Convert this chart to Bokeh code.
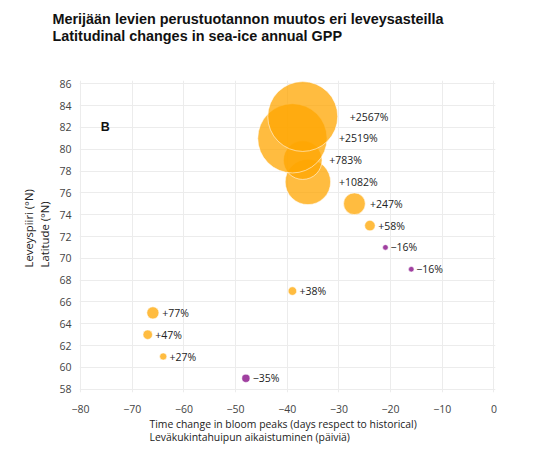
import numpy as np
from bokeh.plotting import figure
from bokeh.models import Label, FixedTicker, ColumnDataSource, Range1d, Title
from bokeh.embed import file_html
from bokeh.resources import INLINE
from bokeh.core.properties import value

# ---- data ----
bloom_shift = [-48, -64, -67, -66, -39, -16, -21, -24, -27, -36, -37, -39, -37]
latitude = [59, 61, 63, 65, 67, 69, 71, 73, 75, 77, 79, 81, 83]
gpp_change = [-35, 27, 47, 77, 38, -16, -16, 58, 247, 1082, 783, 2519, 2567]
point_labels = ["\u221235%", "+27%", "+47%", "+77%", "+38%", "\u221216%", "\u221216%",
                "+58%", "+247%", "+1082%", "+783%", "+2519%", "+2567%"]

x_ticks = [-80, -70, -60, -50, -40, -30, -20, -10, 0]
x_tick_labels = ["\u221280", "\u221270", "\u221260", "\u221250", "\u221240", "\u221230",
                 "\u221220", "\u221210", "0"]
y_ticks = [58, 60, 62, 64, 66, 68, 70, 72, 74, 76, 78, 80, 82, 84, 86]
y_tick_labels = [str(t) for t in y_ticks]

title_lines = ["Merijään levien perustuotannon muutos eri leveysasteilla",
               "Latitudinal changes in sea-ice annual GPP"]
x_title_lines = ["Time change in bloom peaks (days respect to historical)",
                 "Leväkukintahuipun aikaistuminen (päiviä)"]
y_title_lines = ["Leveyspiiri (°N)", "Latitude (°N)"]
panel_letter = "B"

# ---- layout ----
W, H = 556, 455
FL, FR, FT, FB = 79, 495, 80, 392          # frame edges in canvas pixels
X0, X1, Y0, Y1 = -80.2, 0.3, 57.7, 86.3


def px2x(px):
    return X0 + (px - FL) * (X1 - X0) / (FR - FL)


def px2y(py):
    return Y0 + (FB - py) * (Y1 - Y0) / (FB - FT)


# ---- derived styling ----
radius_px = [0.69 * np.sqrt(abs(v)) for v in gpp_change]
colors = ["#FFA500" if v > 0 else "#800080" for v in gpp_change]
src = ColumnDataSource(dict(
    x=bloom_shift, y=latitude, label=point_labels,
    size=[2 * r for r in radius_px],
    xoff=[1.3 * r + 1.5 for r in radius_px],
    color=colors,
))

p = figure(width=W, height=H, output_backend="svg", toolbar_location=None,
           x_range=Range1d(X0, X1), y_range=Range1d(Y0, Y1),
           min_border_left=FL, min_border_right=W - FR, min_border_top=FT, min_border_bottom=H - FB)
p.title = None
p.outline_line_color = None
p.background_fill_color = "white"
p.border_fill_color = "white"

for ax, ticks, labs in ((p.xaxis[0], x_ticks, x_tick_labels), (p.yaxis[0], y_ticks, y_tick_labels)):
    ax.ticker = FixedTicker(ticks=ticks)
    ax.major_label_overrides = {t: l for t, l in zip(ticks, labs)}
    ax.axis_line_color = None
    ax.major_tick_line_color = None
    ax.minor_tick_line_color = None
    ax.major_tick_out = 0
    ax.major_tick_in = 0
    ax.major_label_text_font = "Open Sans"
    ax.major_label_text_font_size = "10.5px"
    ax.major_label_text_color = "#444444"
p.xaxis.major_label_standoff = 12
p.yaxis.major_label_standoff = 8

p.xgrid.grid_line_color = "#ececec"
p.ygrid.grid_line_color = "#ececec"
p.xgrid.ticker = FixedTicker(ticks=x_ticks)
p.ygrid.ticker = FixedTicker(ticks=y_ticks)

p.scatter("x", "y", size="size", source=src, fill_color="color", fill_alpha=0.75,
          line_color="white", line_width=0.7, line_alpha=0.8)
p.text("x", "y", text="label", source=src, x_offset="xoff", text_baseline="middle",
       text_align="left", text_font=value("Open Sans"), text_font_size="10.5px",
       text_color="#222222")

p.add_layout(Label(x=px2x(104.7), y=px2y(126.7), text=panel_letter, text_align="center",
                   text_baseline="middle", text_font="Liberation Sans", text_font_style="bold",
                   text_font_size="12.5px", text_color="#111111"))

# spacer between the frame and the chart title
p.add_layout(Title(text=" ", text_font_size="1px", standoff=33), "above")
# chart title (two lines, left aligned)
p.add_layout(Title(text="\n".join(title_lines), align="left", offset=52 - FL, standoff=0,
                   text_font="Liberation Sans", text_font_style="bold", text_line_height=1.12,
                   text_font_size="14.4px", text_color="#111111"), "above")
# x axis title
p.add_layout(Title(text="\n".join(x_title_lines), align="left", offset=149 - FL, standoff=0,
                   text_font="Open Sans", text_font_style="normal", text_line_height=0.95,
                   text_font_size="10.4px", text_color="#222222"), "below")
# y axis title
p.add_layout(Title(text="\n".join(y_title_lines), align="left", offset=FB - 267, standoff=9,
                   text_font="Open Sans", text_font_style="normal", text_line_height=1.08,
                   text_font_size="11.3px", text_color="#222222"), "left")

open("out.html", "w").write(file_html(p, INLINE))
